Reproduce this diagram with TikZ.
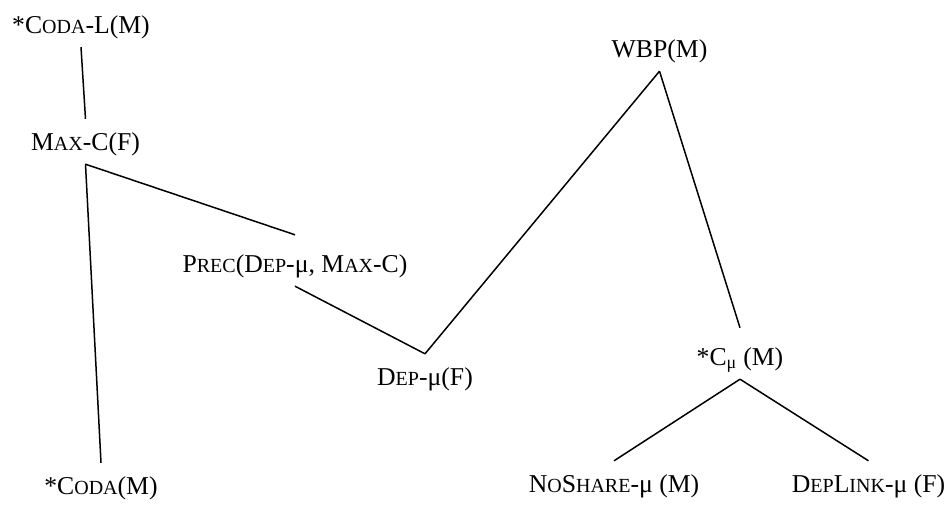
\documentclass[tikz,border=0pt]{standalone}
\usepackage{fontspec}
\setmainfont{Liberation Serif}
% faked small capitals: uppercase letters set smaller
\newcommand\smc[1]{{\fontsize{20}{24}\selectfont #1}}
\begin{document}
\begin{tikzpicture}[x=1pt,y=-1pt,
  lbl/.style={anchor=base, font=\fontsize{25.7}{30}\selectfont,
    text height=22pt, text depth=5pt, inner xsep=0pt, inner ysep=9pt},
  edge/.style={line width=1.5pt}]
\useasboundingbox (0,0) rectangle (952,509);

\node[lbl] (codal)  at (81,33)    {*C\smc{ODA}-L(M)};
\node[lbl] (maxc)   at (85.5,150) {M\smc{AX}-C(F)};
\node[lbl] (prec)   at (295,272)  {P\smc{REC}(D\smc{EP}-μ, M\smc{AX}-C)};
\node[lbl] (coda)   at (101,494)  {*C\smc{ODA}(M)};
\node[lbl] (dep)    at (425,385)  {D\smc{EP}-μ(F)};
\node[lbl] (wbp)    at (659.5,57) {WBP(M)};
\node[lbl] (cmu)    at (740,365)  {*C\textsubscript{μ} (M)};
\node[lbl] (noshare) at (614,492) {N\smc{O}S\smc{HARE}-μ (M)};
\node[lbl] (deplink) at (868.5,492) {D\smc{EP}L\smc{INK}-μ (F)};

\draw[edge] (codal.south) -- (maxc.north);
\draw[edge] (maxc.south) -- ([yshift=6pt]prec.north);
\draw[edge] (maxc.south) -- (coda.north);
\draw[edge] (prec.south) -- (dep.north);
\draw[edge] (dep.north) -- (wbp.south);
\draw[edge] (wbp.south) -- ([yshift=6pt]cmu.north);
\draw[edge] (cmu.south) -- (noshare.north);
\draw[edge] (cmu.south) -- (deplink.north);
\end{tikzpicture}
\end{document}
